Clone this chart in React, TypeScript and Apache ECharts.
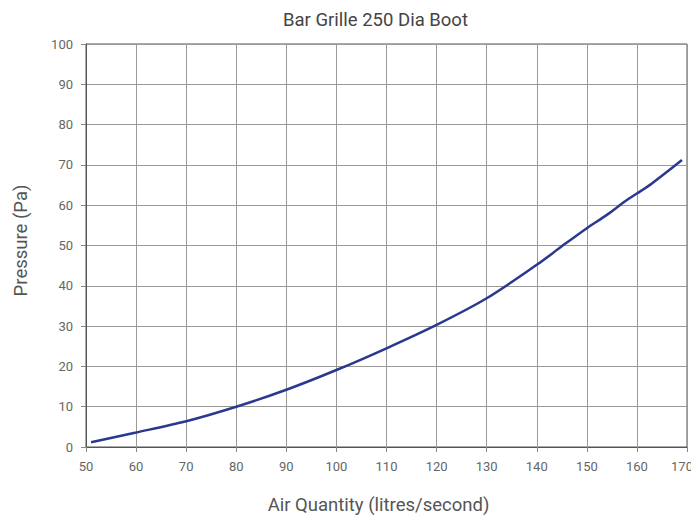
import React, { useEffect, useRef } from "react";
import * as echarts from "echarts";

const airQuantity = [51, 60, 70, 80, 90, 100, 110, 120, 130, 140, 145, 150, 154, 158, 160, 163, 169];
const pressure = [1.2, 3.6, 6.4, 10.0, 14.2, 19.1, 24.5, 30.3, 36.9, 45.2, 49.8, 54.3, 57.6, 61.3, 62.9, 65.4, 71.2];
const title = "Bar Grille 250 Dia Boot";
const xName = "Air Quantity (litres/second)";
const yName = "Pressure (Pa)";

export default function App() {
  const ref = useRef<HTMLDivElement>(null);
  useEffect(() => {
    document.body.style.margin = "0";
    const chart = echarts.init(ref.current!, null, { renderer: "svg" });
    const font = "Roboto";
    chart.setOption({
      animation: false,
      backgroundColor: "#ffffff",
      title: {
        text: title,
        left: 278,
        top: 5,
        textStyle: { fontFamily: font, fontSize: 18.5, fontWeight: "normal", color: "#444" },
      },
      grid: {
        left: 86,
        right: 4,
        top: 44,
        bottom: 73,
        show: true,
        borderColor: "#555",
        borderWidth: 1,
        outerBoundsMode: "none",
        containLabel: false,
      },
      xAxis: {
        type: "value",
        min: 50,
        max: 170,
        interval: 10,
        name: xName,
        nameLocation: "middle",
        nameGap: 48,
        nameTextStyle: { fontFamily: font, fontSize: 18.5, color: "#555", padding: [0, 16, 0, 0] },
        axisLine: { show: true, lineStyle: { color: "#555" } },
        axisTick: { show: true, length: 5, lineStyle: { color: "#888" } },
        axisLabel: {
          fontFamily: font,
          fontSize: 13,
          color: "#666",
          margin: 13,
          formatter: (v: number) => (v === 170 ? "{last|" + v + "}" : String(v)),
          rich: {
            last: { fontFamily: font, fontSize: 13, color: "#666", padding: [0, 10, 0, 0] },
          },
        },
        splitLine: { show: true, lineStyle: { color: "#999", width: 1 } },
      },
      yAxis: {
        type: "value",
        min: 0,
        max: 100,
        interval: 10,
        name: yName,
        nameLocation: "middle",
        nameGap: 56,
        nameTextStyle: { fontFamily: font, fontSize: 18.5, color: "#555", padding: [0, 0, 0, 10] },
        axisLine: { show: true, lineStyle: { color: "#555" } },
        axisTick: { show: true, length: 5, lineStyle: { color: "#888" } },
        axisLabel: { fontFamily: font, fontSize: 13, color: "#666", margin: 13 },
        splitLine: { show: true, lineStyle: { color: "#999", width: 1 } },
      },
      series: [
        {
          type: "line",
          data: airQuantity.map((x, i) => [x, pressure[i]]),
          showSymbol: false,
          smooth: 0.3,
          lineStyle: { color: "#2a3990", width: 2.5 },
        },
      ],
    });
    return () => chart.dispose();
  }, []);
  return <div ref={ref} style={{ width: 691, height: 520 }} />;
}
